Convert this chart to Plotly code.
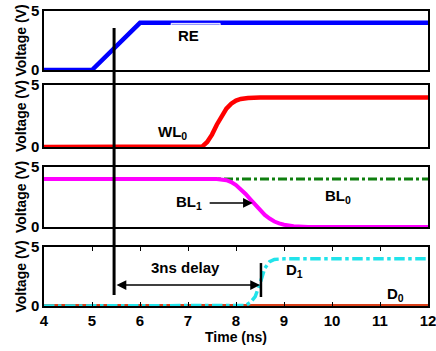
import plotly.graph_objects as go

# ---- data (time in ns, voltage in V) ----
t_re = [4, 5, 6, 12]
v_re = [0, 0, 4, 4]

t_wl0 = [4, 7.2, 7.3, 7.4, 7.5, 7.6, 7.7, 7.8, 7.9, 8.0, 8.1, 8.25, 8.5, 12]
v_wl0 = [0, 0, 0.05, 0.4, 1.0, 1.8, 2.5, 3.1, 3.5, 3.75, 3.88, 3.96, 4.0, 4.0]

t_bl0 = [4, 12]
v_bl0 = [4, 4]

t_bl1 = [4, 7.6, 7.8, 7.9, 8.0, 8.1, 8.2, 8.3, 8.4, 8.5, 8.6, 8.7, 8.8, 8.9, 9.0, 9.2, 9.5, 12]
v_bl1 = [4, 4, 3.9, 3.75, 3.5, 3.15, 2.75, 2.3, 1.85, 1.4, 1.0, 0.7, 0.45, 0.3, 0.18, 0.06, 0, 0]

t_d0 = [4, 12]
v_d0 = [0, 0]

t_d1 = [4, 8.1, 8.2, 8.3, 8.4, 8.5, 8.55, 8.6, 8.7, 8.8, 9.0, 12]
v_d1 = [0, 0, 0.05, 0.3, 0.8, 1.9, 2.6, 3.2, 3.75, 3.95, 4.0, 4.0]

x_ticks = [4, 5, 6, 7, 8, 9, 10, 11, 12]
y_ticks = [0, 5]

FONT = "Liberation Sans, Arial, sans-serif"

fig = go.Figure()

def line(x, y, ax, color, width, dash="solid"):
    fig.add_trace(go.Scatter(x=x, y=y, xaxis="x" + ax, yaxis="y" + ax, mode="lines",
                             line=dict(color=color, width=width, dash=dash),
                             showlegend=False, hoverinfo="skip"))

line(t_re, v_re, "", "#0000ff", 4.5)
line(t_wl0, v_wl0, "2", "#ff0000", 4.5)
line(t_bl0, v_bl0, "3", "#0f7f0f", 3, "dashdot")
line(t_bl1, v_bl1, "3", "#ff00ff", 4)
line(t_d0, v_d0, "4", "#d9401a", 4)
line(t_d1, v_d1, "4", "#22e3ea", 3.5, "dashdot")

domains = [[0.80, 1.0], [0.539, 0.749], [0.268, 0.471], [0.0, 0.2]]
names = ["", "2", "3", "4"]

layout = dict(
    width=436, height=351,
    margin=dict(l=44, r=8, t=11, b=45, autoexpand=False),
    paper_bgcolor="white", plot_bgcolor="white",
    font=dict(family=FONT, size=14, color="black"),
    showlegend=False,
)

for i, n in enumerate(names):
    last = (i == 3)
    xa = dict(
        domain=[0, 1], range=[4, 12], anchor="y" + n,
        showline=True, linecolor="black", linewidth=1.5, mirror=("allticks" if last else True),
        showgrid=False, zeroline=False,
        tickvals=x_ticks, showticklabels=last,
        ticks=("inside" if last else ""), ticklen=4, tickwidth=1, tickcolor="black",
        tickfont=dict(family=FONT, size=15, weight="bold"),
        automargin=False, ticklabeloverflow="allow",
    )
    if last:
        xa["title"] = dict(text="<b>Time (ns)</b>", font=dict(family=FONT, size=14), standoff=2)
    if n:
        xa["matches"] = "x"
    layout["xaxis" + n] = xa
    layout["yaxis" + n] = dict(
        domain=domains[i], range=[0, 5], anchor="x" + n,
        showline=True, linecolor="black", linewidth=1.5, mirror=True,
        showgrid=False, zeroline=False,
        tickvals=y_ticks, ticks="", ticklen=0,
        tickfont=dict(family=FONT, size=15, weight="bold"),
        title=dict(text="<b>Voltage (V)</b>", font=dict(family=FONT, size=14), standoff=1),
        automargin=False, ticklabeloverflow="allow",
    )

fig.update_layout(**layout)

# long vertical marker through all panels
fig.add_shape(type="line", xref="x", yref="paper", x0=5.46, x1=5.46, y0=0.037, y1=0.942,
              line=dict(color="black", width=3))
# short vertical marker on D1 transition
fig.add_shape(type="line", xref="x4", yref="y4", x0=8.52, x1=8.52, y0=0.76, y1=3.64,
              line=dict(color="black", width=2.5))
# small white box under RE label
fig.add_shape(type="rect", xref="x", yref="y", x0=6.65, x1=7.67, y0=3.82, y1=3.95,
              line=dict(color="white", width=1))

ann = []
def label(text, x, y, ax):
    ann.append(dict(text="<b>" + text + "</b>", x=x, y=y, xref="x" + ax, yref="y" + ax,
                    showarrow=False, font=dict(family=FONT, size=15, color="black")))

label("RE", 7.02, 2.95, "")
label("WL<sub>0</sub>", 6.68, 1.2, "2")
label("BL<sub>1</sub>", 7.02, 2.05, "3")
label("BL<sub>0</sub>", 10.12, 2.5, "3")
label("D<sub>1</sub>", 9.22, 3.05, "4")
label("D<sub>0</sub>", 11.32, 1.0, "4")
label("3ns delay", 6.94, 3.3, "4")

# BL1 pointer arrow
ann.append(dict(x=8.35, y=2.0, ax=7.42, ay=2.0, xref="x3", yref="y3", axref="x3", ayref="y3",
                text="", showarrow=True, arrowhead=2, arrowsize=1.3, arrowwidth=1.5, arrowcolor="black"))
# 3ns delay double arrow
ann.append(dict(x=8.5, y=1.78, ax=5.48, ay=1.78, xref="x4", yref="y4", axref="x4", ayref="y4",
                text="", showarrow=True, arrowside="end+start", arrowhead=2, startarrowhead=2,
                arrowsize=1.3, startarrowsize=1.3, arrowwidth=1.5, arrowcolor="black"))

fig.update_layout(annotations=ann)

fig.write_html("out.html", config={"displayModeBar": False},
               post_script="document.body.style.margin='0';")
